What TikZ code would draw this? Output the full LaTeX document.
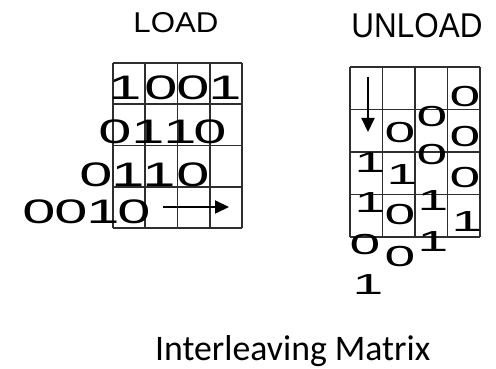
\documentclass[tikz,border=0pt]{standalone}
\usepackage{fontspec}
\setmainfont{Liberation Sans}
\newfontfamily\captionfont{Carlito}
\usetikzlibrary{arrows.meta}

% wide digits for the two bit matrices
\newcommand\loadbit[1]{\scalebox{1.75}[1]{\fontsize{34}{34}\selectfont #1}}
\newcommand\unloadbit[1]{\scalebox{1.9}[1]{\fontsize{29}{29}\selectfont #1}}

\begin{document}
\begin{tikzpicture}[x=1pt,y=-1pt,
  gridline/.style={draw=black!82,line width=1.9pt},
  bitnode/.style={inner sep=0pt,text=black},
  heading/.style={inner sep=0pt,text=black},
  flow/.style={draw=black,line width=2pt,-{Triangle[length=14pt,width=13pt]}}]
\useasboundingbox[fill=white] (0,0) rectangle (496,369);

% ---------- LOAD matrix ----------
\node[heading] (loadtitle) at (176,23) {\resizebox{85pt}{20pt}{LOAD}};
\foreach \i in {0,...,4} {
  \draw[gridline] ({113+32.25*\i},63) -- ({113+32.25*\i},228);
  \draw[gridline] (113,{63+41.25*\i}) -- (242,{63+41.25*\i});
}
% row 1: 1001
\node[bitnode] (la1) at (125,88) {\loadbit{1}};
\node[bitnode] (la2) at (161,88) {\loadbit{0}};
\node[bitnode] (la3) at (193,88) {\loadbit{0}};
\node[bitnode] (la4) at (225,88) {\loadbit{1}};
% row 2: 0110
\node[bitnode] (lb1) at (115,132) {\loadbit{0}};
\node[bitnode] (lb2) at (148,132) {\loadbit{1}};
\node[bitnode] (lb3) at (180,132) {\loadbit{1}};
\node[bitnode] (lb4) at (210,132) {\loadbit{0}};
% row 3: 0110
\node[bitnode] (lc1) at (96,175) {\loadbit{0}};
\node[bitnode] (lc2) at (128,175) {\loadbit{1}};
\node[bitnode] (lc3) at (159,175) {\loadbit{1}};
\node[bitnode] (lc4) at (193,175) {\loadbit{0}};
% row 4: 0010
\node[bitnode] (ld1) at (39,212) {\loadbit{0}};
\node[bitnode] (ld2) at (71,212) {\loadbit{0}};
\node[bitnode] (ld3) at (103,212) {\loadbit{1}};
\node[bitnode] (ld4) at (134,212) {\loadbit{0}};
\coordinate (loadfrom) at (163,207);
\coordinate (loadto) at (229,207);
\draw[flow] (loadfrom) -- (loadto);

% ---------- UNLOAD matrix ----------
\node[heading] (unloadtitle) at (417,25.5) {\resizebox{131pt}{24pt}{UNLOAD}};
\foreach \i in {0,...,4} {
  \draw[gridline] ({350+32.5*\i},67) -- ({350+32.5*\i},237);
  \draw[gridline] (350,{67+42.5*\i}) -- (480,{67+42.5*\i});
}
% column 4
\node[bitnode] (ud1) at (465,97) {\unloadbit{0}};
\node[bitnode] (ud2) at (465,137) {\unloadbit{0}};
\node[bitnode] (ud3) at (465,178) {\unloadbit{0}};
\node[bitnode] (ud4) at (467,222) {\unloadbit{1}};
% column 3
\node[bitnode] (uc1) at (432,117) {\unloadbit{0}};
\node[bitnode] (uc2) at (432,155) {\unloadbit{0}};
\node[bitnode] (uc3) at (433,201) {\unloadbit{1}};
\node[bitnode] (uc4) at (433,242) {\unloadbit{1}};
% column 2
\node[bitnode] (ub1) at (400,133) {\unloadbit{0}};
\node[bitnode] (ub2) at (402,175) {\unloadbit{1}};
\node[bitnode] (ub3) at (400,215) {\unloadbit{0}};
\node[bitnode] (ub4) at (400,257) {\unloadbit{0}};
% column 1
\node[bitnode] (ua1) at (370,163) {\unloadbit{1}};
\node[bitnode] (ua2) at (370,203) {\unloadbit{1}};
\node[bitnode] (ua3) at (365,245) {\unloadbit{0}};
\node[bitnode] (ua4) at (368,285) {\unloadbit{1}};
\coordinate (unloadfrom) at (368,77);
\coordinate (unloadto) at (368,132);
\draw[flow] (unloadfrom) -- (unloadto);

% ---------- caption ----------
\node[heading,anchor=base west] (caption) at (155,360)
  {\resizebox{275pt}{25pt}{\captionfont Interleaving Matrix}};
\end{tikzpicture}
\end{document}
